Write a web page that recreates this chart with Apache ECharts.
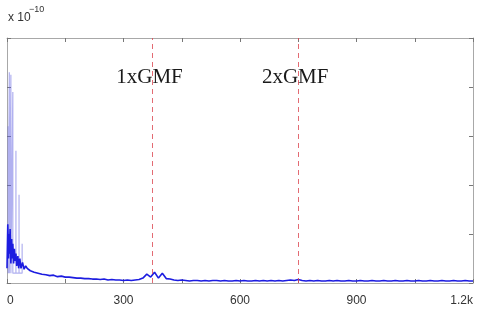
<!DOCTYPE html>
<html>
<head>
<meta charset="utf-8">
<script src="https://cdn.jsdelivr.net/npm/echarts@6/dist/echarts.min.js"></script>
<style>
  html, body { margin: 0; padding: 0; background: #fff; }
  #chart { width: 479px; height: 320px; }
</style>
</head>
<body>
<div id="chart"></div>
<script>
// spectrum amplitude, units of 1e-10
var spikeFreq = [3, 6, 10, 15, 23, 31, 39];
var spikeAmp  = [3.2, 4.3, 4.25, 3.9, 2.7, 1.8, 0.8];

var lowFreq = [0, 2, 4, 5, 6, 8, 10, 12, 13, 15, 17, 19, 21, 23, 25, 28, 30, 33, 36, 40, 44, 48, 52, 56, 60, 65, 70, 75, 80, 85, 90, 95];
var lowAmp  = [0.3, 1.2, 0.5, 1.0, 0.6, 1.1, 0.4, 0.9, 0.5, 0.8, 0.4, 0.7, 0.45, 0.6, 0.35, 0.55, 0.3, 0.5, 0.3, 0.42, 0.28, 0.35, 0.3, 0.32, 0.25, 0.28, 0.22, 0.24, 0.2, 0.2, 0.18, 0.19];

// 100 Hz .. 1200 Hz, every 10 Hz
var floorStart = 100, floorStep = 10;
var floorAmp = [
  0.17, 0.15, 0.16, 0.13, 0.14, 0.12, 0.12, 0.11, 0.10, 0.10,
  0.09, 0.09, 0.08, 0.08, 0.07, 0.08, 0.06, 0.07, 0.06, 0.06,
  0.05, 0.06, 0.05, 0.06, 0.07, 0.10, 0.18, 0.12, 0.22, 0.10,
  0.20, 0.09, 0.08, 0.06, 0.05, 0.06, 0.05, 0.04, 0.05, 0.05,
  0.04, 0.05, 0.04, 0.05, 0.05, 0.04, 0.05, 0.04, 0.04, 0.05,
  0.04, 0.05, 0.04, 0.04, 0.05, 0.04, 0.05, 0.04, 0.05, 0.04,
  0.05, 0.04, 0.05, 0.06, 0.05, 0.07, 0.05, 0.04, 0.05, 0.04,
  0.05, 0.04, 0.04, 0.05, 0.04, 0.05, 0.04, 0.04, 0.05, 0.04,
  0.04, 0.05, 0.04, 0.04, 0.05, 0.04, 0.04, 0.05, 0.04, 0.04,
  0.05, 0.04, 0.04, 0.05, 0.04, 0.04, 0.05, 0.04, 0.04, 0.05,
  0.04, 0.04, 0.05, 0.04, 0.04, 0.05, 0.04, 0.04, 0.05, 0.04,
  0.04
];

var gmfFreq = [375, 750];
var gmfLabels = ['1xGMF', '2xGMF'];
var labelY = 4.2;

var spikeData = [];
for (var i = 0; i < spikeFreq.length; i++) {
    spikeData.push([spikeFreq[i], 0.2]);
    spikeData.push([spikeFreq[i], spikeAmp[i]]);
    spikeData.push([spikeFreq[i], 0.2]);
}
var floorData = [];
for (var k = 0; k < lowFreq.length; k++) {
    floorData.push([lowFreq[k], lowAmp[k]]);
}
for (var m = 0; m < floorAmp.length; m++) {
    floorData.push([floorStart + m * floorStep, floorAmp[m]]);
}

var frameLine = { show: true, onZero: false, lineStyle: { color: '#a8a8a8', width: 1 } };
var innerTick = { show: true, inside: true, length: 4, lineStyle: { color: '#777' } };

var myChart = echarts.init(document.getElementById('chart'));
option = {
    animation: false,
    grid: { left: 7, right: 6, top: 38, bottom: 37, outerBoundsMode: 'none' },
    graphic: [
        { type: 'text', left: 8, top: 12, style: { text: 'x 10', fontSize: 12, fill: '#333', fontFamily: 'Liberation Sans Narrow, Liberation Sans, sans-serif' } },
        { type: 'text', left: 29, top: 5, style: { text: '\u221210', fontSize: 9, fill: '#333', fontFamily: 'Liberation Sans Narrow, Liberation Sans, sans-serif' } }
    ],
    xAxis: [{
        type: 'value', min: 0, max: 1200, interval: 150,
        axisLine: frameLine, axisTick: innerTick, splitLine: { show: false },
        axisLabel: {
            margin: 12, fontSize: 12, color: '#333',
            fontFamily: 'Liberation Sans Narrow, Liberation Sans, sans-serif',
            alignMinLabel: 'left', alignMaxLabel: 'right',
            formatter: function (v) {
                if (v % 300 !== 0) return '';
                return v >= 1000 ? (v / 1000) + 'k' : String(v);
            }
        }
    }, {
        type: 'value', position: 'top', min: 0, max: 1200, interval: 150,
        axisLine: frameLine, axisTick: innerTick, splitLine: { show: false },
        axisLabel: { show: false }
    }],
    yAxis: [{
        type: 'value', min: 0, max: 5, interval: 1,
        axisLine: frameLine, axisTick: innerTick, splitLine: { show: false },
        axisLabel: { show: false }
    }, {
        type: 'value', position: 'right', min: 0, max: 5, interval: 1,
        axisLine: frameLine, axisTick: innerTick, splitLine: { show: false },
        axisLabel: { show: false }
    }],
    series: [{
        type: 'line',
        data: spikeData,
        symbol: 'none',
        lineStyle: { color: 'rgba(100,100,225,0.5)', width: 1.2 }
    }, {
        type: 'line',
        data: floorData,
        symbol: 'none',
        lineStyle: { color: '#1c1ce0', width: 1.6 },
        markLine: {
            silent: true, symbol: 'none',
            label: { show: false },
            lineStyle: { color: 'rgba(220,70,80,0.8)', type: [5, 4], width: 1 },
            data: gmfFreq.map(function (f) { return { xAxis: f }; })
        },
        markPoint: {
            symbol: 'circle', symbolSize: 0,
            label: {
                show: true, position: 'inside', color: '#1a1a1a', fontSize: 21,
                fontFamily: 'Liberation Serif, DejaVu Serif, serif',
                formatter: function (p) { return p.name; }
            },
            data: gmfFreq.map(function (f, i) { return { name: gmfLabels[i], coord: [f - 8, labelY] }; })
        }
    }]
};
myChart.setOption(option);
</script>
</body>
</html>
